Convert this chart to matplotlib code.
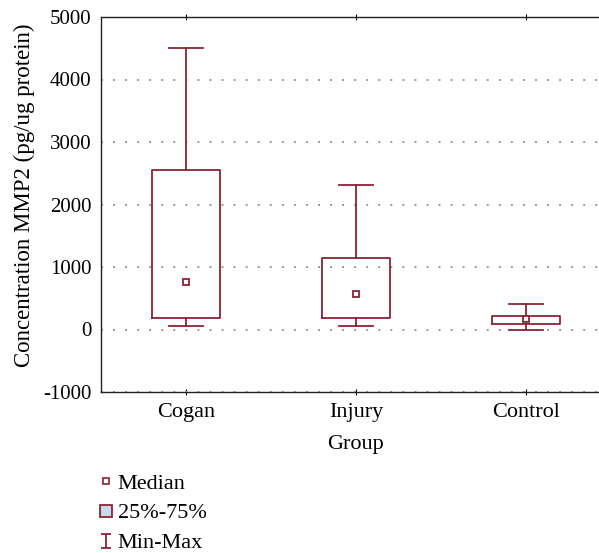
import matplotlib
matplotlib.use('Agg')
import matplotlib.pyplot as plt
from matplotlib.lines import Line2D
from matplotlib.path import Path

groups = ['Cogan', 'Injury', 'Control']
q_min = [55, 55, -5]
q1 = [185, 185, 95]
median = [760, 570, 165]
q3 = [2560, 1150, 220]
q_max = [4500, 2320, 410]

red = '#8b2331'
plt.rcParams['font.family'] = ['Liberation Serif', 'DejaVu Serif']
plt.rcParams['axes.unicode_minus'] = False

fig = plt.figure(figsize=(5.99, 5.53), dpi=100)
# right side of the frame runs past the picture edge in the reference
ax = fig.add_axes([101/599, 1-392/553, 510/599, 375/553])

pos = [1, 2, 3]
stats = []
for i in range(3):
    stats.append(dict(label=groups[i], whislo=q_min[i], q1=q1[i], med=median[i],
                      q3=q3[i], whishi=q_max[i], fliers=[]))
ax.bxp(stats, positions=pos, widths=0.4, showfliers=False,
       boxprops=dict(color=red, linewidth=1.3),
       whiskerprops=dict(color=red, linewidth=1.3),
       capprops=dict(color=red, linewidth=1.3),
       medianprops=dict(linewidth=0),
       capwidths=0.2)
ax.plot(pos, median, 's', ms=4.5, mfc='white', mec=red, mew=1.3, ls='none')

ax.set_xlim(0.5, 3.5)
ax.set_ylim(-1000, 5000)
ax.set_yticks(range(-1000, 5001, 1000))
ax.set_xticks(pos)
ax.set_xticklabels(groups)
ax.yaxis.grid(True, linestyle=(0, (1, 5.2)), color='#999999', linewidth=1.4)
ax.set_axisbelow(True)
ax.tick_params(axis='y', length=0, labelsize=15, pad=7)
ax.tick_params(axis='x', direction='inout', length=4, top=True, labelsize=16, pad=6)
for s in ax.spines.values():
    s.set_linewidth(1.0)
    s.set_color('#222222')
ax.set_xlabel('Group', fontsize=16, labelpad=9)
ax.set_ylabel('Concentration MMP2 (pg/ug protein)', fontsize=16.5)
ax.yaxis.set_label_coords(-0.130, 0.524)

ibar = Path([(-0.8, 1), (0.8, 1), (0, 1), (0, -1), (-0.8, -1), (0.8, -1)],
            [Path.MOVETO, Path.LINETO, Path.MOVETO, Path.LINETO, Path.MOVETO, Path.LINETO])
handles = [
    Line2D([], [], marker='s', ls='none', ms=4, mfc='white', mec=red, mew=1.2),
    Line2D([], [], marker='s', ls='none', ms=8, mfc='#c6d9f0', mec=red, mew=1.3),
    Line2D([], [], marker=ibar, ls='none', ms=9.5, mfc='none', mec=red, mew=1.3),
]
fig.legend(handles, ['Median', '25%-75%', 'Min-Max'], loc='upper left',
           bbox_to_anchor=(100/599, 1-473/553), frameon=False, fontsize=16,
           handlelength=0.5, handletextpad=0.3, labelspacing=0.42, borderpad=0,
           borderaxespad=0)

fig.savefig('out.png', dpi=100)
